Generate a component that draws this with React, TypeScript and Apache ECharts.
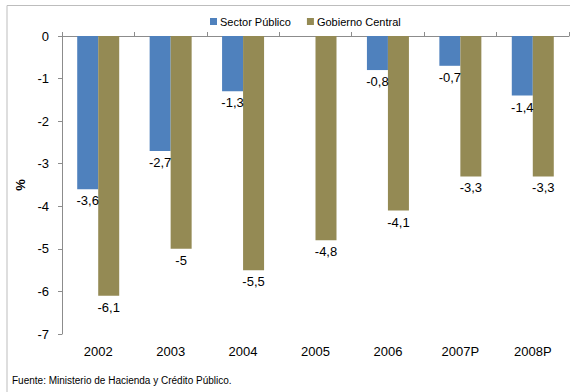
import React, { useEffect, useRef } from "react";
import * as echarts from "echarts";

const categories = ["2002", "2003", "2004", "2005", "2006", "2007P", "2008P"];
const sectorPublico: (number | null)[] = [-3.6, -2.7, -1.3, null, -0.8, -0.7, -1.4];
const gobiernoCentral = [-6.1, -5, -5.5, -4.8, -4.1, -3.3, -3.3];
const yTicks = { min: -7, max: 0, interval: 1 };

const FONT = "'Liberation Sans', Arial, sans-serif";

const fmt = (v: number) => String(v).replace(".", ",");

export default function App() {
  const ref = useRef<HTMLDivElement>(null);

  useEffect(() => {
    if (!ref.current) return;
    const chart = echarts.init(ref.current, null, { renderer: "svg" });
    const barLabel = {
      show: true,
      position: "bottom" as const,
      distance: 5,
      fontSize: 13,
      fontFamily: FONT,
      color: "#000",
      formatter: (p: any) => fmt(p.value),
    };
    chart.setOption({
      animation: false,
      backgroundColor: "#fff",
      textStyle: { fontFamily: FONT },
      legend: {
        top: 11,
        left: 205,
        itemWidth: 7,
        itemHeight: 7,
        itemGap: 16,
        icon: "rect",
        textStyle: { fontSize: 11, color: "#000", fontFamily: FONT, padding: [0, 0, 0, -2] },
        data: ["Sector Público", "Gobierno Central"],
      },
      grid: { left: 62, right: 1, top: 36, bottom: 58 },
      xAxis: [
        {
          type: "category",
          data: categories,
          position: "top",
          axisLine: { show: true, lineStyle: { color: "#8c8c8c", width: 1 } },
          axisTick: { show: true, length: 4, lineStyle: { color: "#8c8c8c" } },
          axisLabel: { show: false },
          splitLine: { show: false },
        },
        {
          type: "category",
          data: categories,
          position: "bottom",
          axisLine: { show: false },
          axisTick: { show: false },
          axisLabel: { show: true, fontSize: 13, color: "#000", fontFamily: FONT, margin: 11 },
        },
      ],
      yAxis: {
        type: "value",
        min: yTicks.min,
        max: yTicks.max,
        interval: yTicks.interval,
        name: "%",
        nameLocation: "middle",
        nameRotate: 90,
        nameGap: 28,
        nameTextStyle: { fontSize: 13, fontWeight: "bold", color: "#000", fontFamily: FONT },
        axisLine: { show: true, lineStyle: { color: "#8c8c8c", width: 1 } },
        axisTick: { show: true, length: 4, lineStyle: { color: "#8c8c8c" } },
        axisLabel: { fontSize: 13, color: "#000", fontFamily: FONT, margin: 13 },
        splitLine: { show: false },
      },
      series: [
        {
          name: "Sector Público",
          type: "bar",
          xAxisIndex: 0,
          data: sectorPublico,
          barWidth: 21,
          barGap: "0%",
          itemStyle: { color: "#4F81BD" },
          label: barLabel,
        },
        {
          name: "Gobierno Central",
          type: "bar",
          xAxisIndex: 0,
          data: gobiernoCentral,
          barWidth: 21,
          barGap: "0%",
          itemStyle: { color: "#948A54" },
          label: barLabel,
        },
      ],
      graphic: [
        {
          type: "polyline",
          shape: { points: [[7, 392], [7, 5.5], [570, 5.5]] },
          style: { stroke: "#bdbdbd", lineWidth: 1, fill: "none" },
          silent: true,
        },
        {
          type: "text",
          left: 12,
          top: 375,
          style: {
            text: "Fuente: Ministerio de Hacienda y Crédito Público.",
            fontSize: 10,
            fontFamily: FONT,
            fill: "#000",
          },
        },
      ],
    });
    return () => chart.dispose();
  }, []);

  return (
    <div
      ref={ref}
      style={{ position: "absolute", left: 0, top: 0, width: 570, height: 392 }}
    />
  );
}
